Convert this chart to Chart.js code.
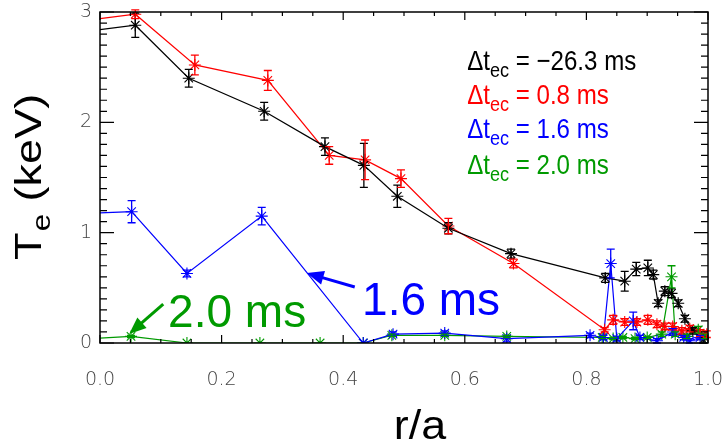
<!DOCTYPE html>
<html>
<head>
<meta charset="utf-8">
<script src="https://cdn.jsdelivr.net/npm/chart.js@4.4.1/dist/chart.umd.min.js"></script>
<style>
  html, body { margin: 0; padding: 0; background: #fff; }
</style>
</head>
<body>
<canvas id="c" width="723" height="444"></canvas>
<script>
// r/a positions, Te (keV) and error bars
const rBlack  = [0.0, 0.058, 0.146, 0.27, 0.37, 0.434, 0.489, 0.573, 0.676, 0.831, 0.863, 0.882, 0.901, 0.91, 0.918, 0.929, 0.94, 0.951, 0.962, 0.975, 0.992];
const teBlack = [2.84, 2.88, 2.40, 2.10, 1.78, 1.61, 1.33, 1.04, 0.81, 0.59, 0.56, 0.67, 0.68, 0.62, 0.36, 0.47, 0.45, 0.36, 0.22, 0.11, 0.03];
const errBlack = [0, 0.11, 0.08, 0.08, 0.08, 0.20, 0.10, 0.05, 0.04, 0.04, 0.09, 0.06, 0.07, 0.04, 0.03, 0.04, 0.04, 0.03, 0.03, 0.03, 0.03];

const rRed  = [0.0, 0.058, 0.156, 0.276, 0.377, 0.436, 0.495, 0.573, 0.68, 0.83, 0.844, 0.863, 0.883, 0.901, 0.916, 0.929, 0.942, 0.957, 0.97, 0.987, 0.998];
const teRed = [2.94, 2.98, 2.52, 2.38, 1.70, 1.66, 1.49, 1.06, 0.72, 0.12, 0.21, 0.19, 0.19, 0.21, 0.17, 0.15, 0.15, 0.11, 0.13, 0.09, 0.08];
const errRed = [0, 0.04, 0.09, 0.09, 0.08, 0.18, 0.08, 0.07, 0.04, 0.02, 0.04, 0.03, 0.03, 0.04, 0.03, 0.03, 0.03, 0.03, 0.03, 0.03, 0.03];

const rBlue  = [0.0, 0.052, 0.143, 0.266, 0.433, 0.482, 0.567, 0.669, 0.806, 0.828, 0.84, 0.85, 0.877, 0.888, 0.916, 0.942, 0.96, 0.97, 0.987];
const teBlue = [1.18, 1.19, 0.63, 1.15, 0.0, 0.08, 0.09, 0.04, 0.07, 0.05, 0.72, 0.04, 0.20, 0.05, 0.02, 0.10, 0.05, 0.02, 0.05];
const errBlue = [0, 0.10, 0.03, 0.08, 0, 0.02, 0.02, 0.03, 0.02, 0.02, 0.13, 0.02, 0.08, 0.02, 0.02, 0.03, 0.02, 0.02, 0.02];

const rGreen  = [0.0, 0.051, 0.143, 0.263, 0.362, 0.433, 0.48, 0.567, 0.669, 0.826, 0.844, 0.86, 0.88, 0.9, 0.924, 0.94, 0.946, 0.965, 0.984, 0.995];
const teGreen = [0.045, 0.06, 0.0, 0.0, 0.0, 0.0, 0.07, 0.07, 0.06, 0.05, 0.04, 0.05, 0.04, 0.05, 0.08, 0.60, 0.08, 0.06, 0.12, 0.06];
const errGreen = [0, 0.01, 0, 0, 0, 0, 0.01, 0.01, 0.01, 0.01, 0.01, 0.01, 0.01, 0.01, 0.02, 0.10, 0.02, 0.02, 0.03, 0.02];

const seriesLabels = ['\u2212' + '26.3 ms', '0.8 ms', '1.6 ms', '2.0 ms'];
const seriesColors = ['#000000', '#ff0000', '#0000ff', '#009a00'];
const xTicks = [0, 0.2, 0.4, 0.6, 0.8, 1.0];
const yTicks = [0, 1, 2, 3];

const toPoints = (r, te, err) => r.map((v, i) => ({ x: v, y: te[i], e: err[i] }));

const series = [
  toPoints(rBlack, teBlack, errBlack),
  toPoints(rRed, teRed, errRed),
  toPoints(rBlue, teBlue, errBlue),
  toPoints(rGreen, teGreen, errGreen)
];

const datasets = series.map((pts, i) => ({
  label: seriesLabels[i],
  data: pts,
  showLine: true,
  borderColor: seriesColors[i],
  backgroundColor: seriesColors[i],
  borderWidth: 1.2,
  pointStyle: 'star',
  pointRadius: ctx => ctx.dataIndex === 0 ? 0 : 6,
  pointBorderWidth: 1.1,
  tension: 0
}));

// vertical error bars with small caps
const errorBars = {
  id: 'errorBars',
  afterDatasetsDraw(chart) {
    const { ctx, scales: { x, y } } = chart;
    ctx.save();
    chart.data.datasets.forEach(ds => {
      ctx.strokeStyle = ds.borderColor;
      ctx.lineWidth = 1.3;
      ds.data.forEach(p => {
        if (!p.e) return;
        const px = x.getPixelForValue(p.x);
        const top = y.getPixelForValue(p.y + p.e);
        const bot = y.getPixelForValue(p.y - p.e);
        ctx.beginPath();
        ctx.moveTo(px, top); ctx.lineTo(px, bot);
        ctx.moveTo(px - 4, top); ctx.lineTo(px + 4, top);
        ctx.moveTo(px - 4, bot); ctx.lineTo(px + 4, bot);
        ctx.stroke();
      });
    });
    ctx.restore();
  }
};

// IDL style box with inward ticks
const frame = {
  id: 'frame',
  afterDraw(chart) {
    const { ctx, chartArea: a, scales: { x, y } } = chart;
    ctx.save();
    ctx.strokeStyle = '#000';
    ctx.lineWidth = 1.5;
    ctx.strokeRect(a.left, a.top, a.right - a.left, a.bottom - a.top);
    ctx.lineWidth = 1.2;
    ctx.beginPath();
    for (let k = 0; k <= 20; k++) {
      const px = x.getPixelForValue(k * 0.05);
      const len = k % 4 === 0 ? 8 : 4;
      ctx.moveTo(px, a.bottom); ctx.lineTo(px, a.bottom - len);
      ctx.moveTo(px, a.top); ctx.lineTo(px, a.top + len);
    }
    for (let k = 0; k <= 30; k++) {
      const py = y.getPixelForValue(k / 10);
      const len = k % 10 === 0 ? 14 : 7;
      ctx.moveTo(a.left, py); ctx.lineTo(a.left + len, py);
      ctx.moveTo(a.right, py); ctx.lineTo(a.right - len, py);
    }
    ctx.stroke();
    ctx.restore();
  }
};

function arrow(ctx, x0, y0, x1, y1, color) {
  const ang = Math.atan2(y1 - y0, x1 - x0);
  const hl = 17, hw = 7;
  ctx.strokeStyle = color;
  ctx.fillStyle = color;
  ctx.lineWidth = 3;
  ctx.beginPath();
  ctx.moveTo(x0, y0);
  ctx.lineTo(x1 - Math.cos(ang) * hl * 0.8, y1 - Math.sin(ang) * hl * 0.8);
  ctx.stroke();
  ctx.beginPath();
  ctx.moveTo(x1, y1);
  ctx.lineTo(x1 - Math.cos(ang) * hl - Math.sin(ang) * hw, y1 - Math.sin(ang) * hl + Math.cos(ang) * hw);
  ctx.lineTo(x1 - Math.cos(ang) * hl + Math.sin(ang) * hw, y1 - Math.sin(ang) * hl - Math.cos(ang) * hw);
  ctx.closePath();
  ctx.fill();
}

const notes = {
  id: 'notes',
  afterDraw(chart) {
    const { ctx, scales: { x, y } } = chart;
    ctx.save();
    ctx.textBaseline = 'alphabetic';
    ctx.textAlign = 'left';

    // legend: Δt_ec = ... (narrow face)
    const legX = x.getPixelForValue(0.604);
    const legY = [2.47, 2.17, 1.855, 1.535];
    const big = "28px 'Liberation Sans', Arial, sans-serif";
    const sub = "21px 'Liberation Sans', Arial, sans-serif";
    seriesLabels.forEach((lab, i) => {
      const by = y.getPixelForValue(legY[i]);
      ctx.save();
      ctx.translate(legX, by);
      ctx.scale(0.86, 1);
      ctx.fillStyle = seriesColors[i];
      ctx.font = big;
      let cx = 0;
      ctx.fillText('\u0394t', cx, 0);
      cx += ctx.measureText('\u0394t').width;
      ctx.font = sub;
      ctx.fillText('ec', cx, 7);
      cx += ctx.measureText('ec').width;
      ctx.font = big;
      ctx.fillText(' = ' + lab, cx, 0);
      ctx.restore();
    });

    // big in-plot labels with arrows
    ctx.font = "46px 'Liberation Sans', Arial, sans-serif";
    ctx.fillStyle = seriesColors[2];
    ctx.fillText('1.6 ms', x.getPixelForValue(0.431), y.getPixelForValue(0.254));
    arrow(ctx, x.getPixelForValue(0.419), y.getPixelForValue(0.508),
               x.getPixelForValue(0.340), y.getPixelForValue(0.634), seriesColors[2]);
    ctx.fillStyle = seriesColors[3];
    ctx.fillText('2.0 ms', x.getPixelForValue(0.112), y.getPixelForValue(0.145));
    arrow(ctx, x.getPixelForValue(0.104), y.getPixelForValue(0.353),
               x.getPixelForValue(0.048), y.getPixelForValue(0.082), seriesColors[3]);

    // axis titles
    ctx.fillStyle = '#000';
    ctx.save();
    ctx.translate(41, 260);
    ctx.rotate(-Math.PI / 2);
    ctx.scale(1.25, 1);
    ctx.font = "36px 'Liberation Sans', Arial, sans-serif";
    ctx.fillText('T', 0, 0);
    let w = ctx.measureText('T').width;
    ctx.font = "25px 'Liberation Sans', Arial, sans-serif";
    ctx.fillText('e', w + 1, 9);
    w += ctx.measureText('e').width + 1;
    ctx.font = "36px 'Liberation Sans', Arial, sans-serif";
    ctx.fillText(' (keV)', w, 0);
    ctx.restore();

    ctx.save();
    ctx.translate(420, 439);
    ctx.scale(1.12, 1);
    ctx.textAlign = 'center';
    ctx.font = "40px 'Liberation Sans', Arial, sans-serif";
    ctx.fillText('r/a', 0, 0);
    ctx.restore();

    ctx.restore();
  }
};

const tickFont = { family: "'DejaVu Sans', sans-serif", size: 19, weight: 200 };

new Chart(document.getElementById('c'), {
  type: 'scatter',
  data: { datasets },
  options: {
    responsive: false,
    animation: false,
    layout: { padding: { top: 12, right: 15, left: 0, bottom: 0 } },
    plugins: { legend: { display: false }, tooltip: { enabled: false } },
    scales: {
      x: {
        type: 'linear',
        min: 0, max: 1,
        afterBuildTicks: s => { s.ticks = xTicks.map(v => ({ value: v })); },
        afterFit: s => { s.height = 101; s.paddingLeft = 0; s.paddingRight = 0; },
        grid: { display: false, drawTicks: false },
        border: { display: false },
        ticks: { padding: 26, color: '#444', font: tickFont, maxRotation: 0, callback: v => v.toFixed(1) }
      },
      y: {
        type: 'linear',
        min: 0, max: 3,
        afterBuildTicks: s => { s.ticks = yTicks.map(v => ({ value: v })); },
        afterFit: s => { s.width = 100; s.paddingTop = 0; s.paddingBottom = 0; },
        grid: { display: false, drawTicks: false },
        border: { display: false },
        ticks: { padding: 8, color: '#444', font: tickFont, callback: v => String(v) }
      }
    }
  },
  plugins: [errorBars, frame, notes]
});
</script>
</body>
</html>
